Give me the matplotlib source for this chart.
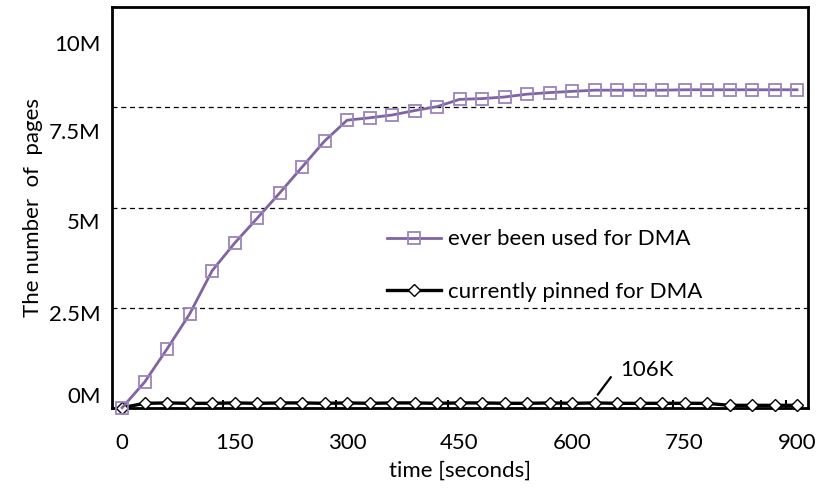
import matplotlib
matplotlib.use('Agg')
import matplotlib.pyplot as plt
import numpy as np

# data (millions of pages), sampled every 30 s
seconds = list(range(0, 901, 30))
ever_used = [0, 0.64, 1.47, 2.34, 3.42, 4.11, 4.73, 5.36, 6.01, 6.66,
             7.18, 7.24, 7.31, 7.42, 7.52, 7.70, 7.72, 7.76, 7.83, 7.87,
             7.90, 7.93, 7.93, 7.93, 7.93, 7.94, 7.94, 7.94, 7.94, 7.94, 7.94]
pinned = [0, 0.11, 0.12, 0.11, 0.11, 0.12, 0.11, 0.12, 0.12, 0.11,
          0.12, 0.11, 0.12, 0.12, 0.11, 0.12, 0.12, 0.11, 0.11, 0.12,
          0.11, 0.12, 0.11, 0.11, 0.11, 0.11, 0.11, 0.06, 0.06, 0.06, 0.06]
x_ticks = [0, 150, 300, 450, 600, 750, 900]
y_labels = ['0M', '2.5M', '5M', '7.5M', '10M']
grid_levels = [2.5, 5, 7.5]
peak_label = '106K'

plt.rcParams['font.family'] = ['Lato', 'DejaVu Sans']
fs = 16

fig = plt.figure(figsize=(8.33, 4.92), dpi=100)
ax = fig.add_axes([0.134, 0.1713, 0.8363, 0.8139])

for g in grid_levels:
    ax.axhline(g, color='black', lw=0.9, ls=(0, (4, 3)), zorder=1)

purple = '#8064A2'
ax.plot(seconds, pinned, color='black', lw=2.4, marker='D', ms=6.5,
        mfc='white', mec='black', mew=1.0, clip_on=False, zorder=3,
        label='currently pinned for DMA')
ax.plot(seconds, ever_used, color=purple, lw=2.0, marker='s', ms=8.5,
        mfc='none', mec='#9b84bd', mew=1.3, clip_on=False, zorder=4,
        label='ever been used for DMA')

ax.annotate('', xy=(632, 0.27), xytext=(654, 0.82),
            arrowprops=dict(arrowstyle='-', color='black', lw=1.6))
ax.text(664, 0.93, peak_label, fontsize=fs, ha='left', va='center')

ax.set_xlim(-14, 915)
ax.set_ylim(0, 10)
ax.set_xticks(x_ticks)
ax.set_xticks([t - 15 for t in x_ticks[1:]], minor=True)
ax.tick_params(axis='x', which='major', length=0, pad=18, labelsize=fs)
ax.tick_params(axis='x', which='minor', length=6, width=1.5, direction='in')
# y labels sit a bit off the gridlines, as in the original figure
ax.set_yticks([0.32, 2.36, 4.67, 6.9, 9.11], y_labels)
ax.tick_params(axis='y', length=0, pad=8, labelsize=fs)

for s in ax.spines.values():
    s.set_linewidth(2.0)

ax.set_xlabel('time [seconds]', fontsize=fs, labelpad=6)
ax.set_ylabel('The number  of  pages', fontsize=fs, labelpad=4)

h, l = ax.get_legend_handles_labels()
ax.legend(h[::-1], l[::-1], loc='center left', bbox_to_anchor=(0.395, 0.355),
          frameon=False, fontsize=fs, handlelength=2.45, handletextpad=0.3,
          labelspacing=1.45, borderpad=0, borderaxespad=0)

fig.savefig('out.png', dpi=100)
